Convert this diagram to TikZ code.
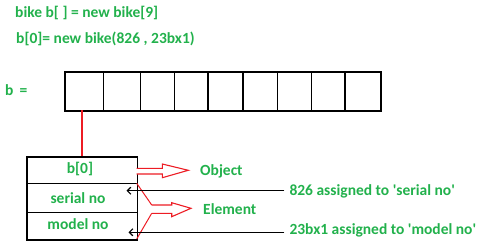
\documentclass[tikz,border=0pt]{standalone}
\usepackage{fontspec}
\setmainfont{Carlito}
\usetikzlibrary{arrows.meta}
\definecolor{codegreen}{RGB}{34,177,76}
\definecolor{paintred}{RGB}{237,28,36}
\begin{document}
\begin{tikzpicture}[x=1pt,y=-1pt,
  label/.style={text=codegreen,font=\bfseries\fontsize{15.5}{17}\selectfont,inner sep=0pt},
  rowbox/.style={draw=black,line width=1.6pt,minimum width=110.7pt,inner sep=0pt,anchor=north west},
  ptr/.style={draw=paintred,line width=1.6pt},
  blockarrow/.style={draw=paintred,line width=1.1pt,line join=miter,fill=white},
  assign/.style={draw=black,line width=1.2pt,-{Straight Barb[length=3.5pt,width=7pt,line width=1.2pt]}}]
\useasboundingbox (0,0) rectangle (483,249);

% declarations
\node[label,anchor=base west] (decl) at (15,17.5) {bike b[ ] = new bike[9]};
\node[label,anchor=base west] (init) at (16,44) {b[0]= new bike(826 , 23bx1)};
\node[label,anchor=base west] (bname) at (5,95) {b \,=};

% array of nine references
\foreach \l/\r [count=\i from 0] in {65/102.7,102.7/140,140/174,174/207.3,207.3/242.3,242.3/276.7,276.7/310.7,310.7/344.3,344.3/380}{
  \node[draw=black,line width=1.4pt,minimum width={(\r-\l)*1pt},minimum height=38.3pt,inner sep=0pt,anchor=north west] (cell\i) at (\l,71.7) {};
}
\draw[black,line width=2pt] (cell0.north west) rectangle (cell8.south east);

% object b[0] with its two fields
\node[rowbox,minimum height=26.7pt] (obj) at (26,156) {};
\node[rowbox,minimum height=29pt] (serial) at (26,182.7) {};
\node[rowbox,minimum height=27.3pt] (model) at (26,211.7) {};
\node[label,anchor=base] (objtxt) at (80,173.5) {b[0]};
\node[label,anchor=base] (sertxt) at (78,203) {serial no};
\node[label,anchor=base] (modtxt) at (78,229.5) {model no};

% reference from b[0] cell to the object
\coordinate (cellfoot) at (81.7,110);
\coordinate (objtop) at (81.7,156);
\draw[ptr] (cellfoot) -- (objtop);

% hollow arrow naming the object
\draw[blockarrow] (136.7,168.3) -- (162.3,168.3) -- (162.3,164) -- (188.3,170.3)
  -- (162.3,177.7) -- (162.3,174) -- (136.7,174);
\node[label,anchor=base west] (objlbl) at (200,175) {Object};

% bracket and hollow arrow naming the elements
\coordinate (brtop) at (136.7,183.3);
\coordinate (brbot) at (136.7,239);
\draw[paintred,line width=1pt] (brtop) -- (151.7,205);
\draw[paintred,line width=1pt] (brbot) -- (151.7,213.3);
\draw[blockarrow] (151.7,205) -- (171.7,205) -- (171.7,202.7) -- (191,208.3)
  -- (171.7,216.7) -- (171.7,213.3) -- (151.7,213.3);
\node[label,anchor=base west] (ellbl) at (203,214) {Element};

% assignments into the fields
\node[label,anchor=base west] (serasg) at (289.3,195.7) {826 assigned to \textquotesingle serial no\textquotesingle};
\node[label,anchor=base west] (modasg) at (289.3,234) {23bx1 assigned to \textquotesingle model no\textquotesingle};
\coordinate (serfrom) at (284.3,190.7);
\coordinate (sertip) at (126.5,190.7);
\coordinate (modfrom) at (284.3,232.3);
\coordinate (modtip) at (128.5,232.3);
\draw[assign] (serfrom) -- (sertip);
\draw[assign] (modfrom) -- (modtip);
\end{tikzpicture}
\end{document}
